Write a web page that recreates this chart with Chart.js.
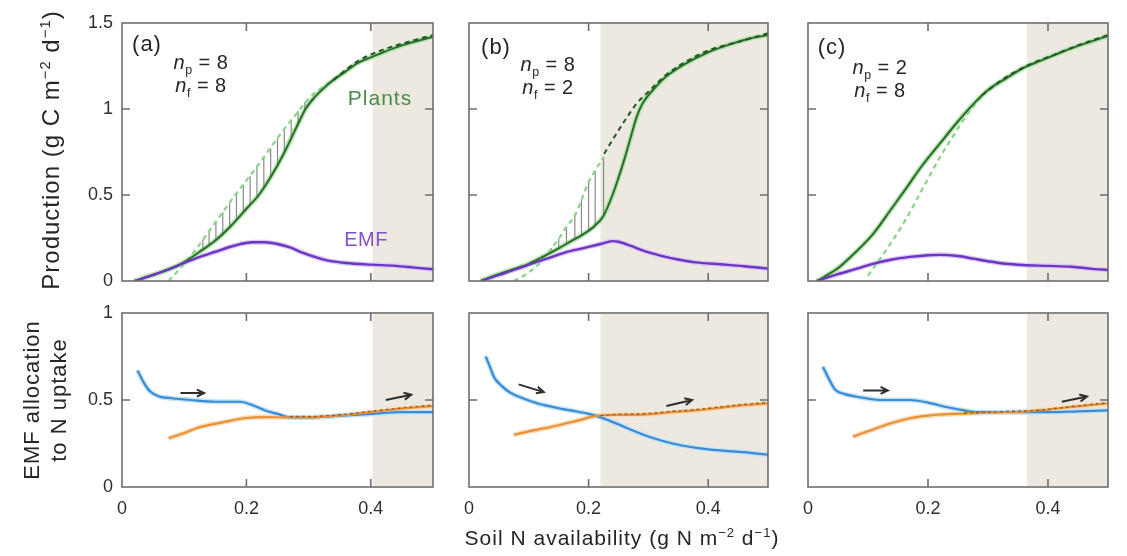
<!DOCTYPE html>
<html><head><meta charset="utf-8">
<script src="https://cdn.jsdelivr.net/npm/chart.js@4.4.1/dist/chart.umd.min.js"></script>
<style>
body{margin:0;background:#fff;width:1127px;height:556px;overflow:hidden;position:relative;font-family:'Liberation Sans',Arial,sans-serif;color:#262626}
canvas{position:absolute}
.t{position:absolute;transform:translate(-50%,-50%);white-space:nowrap;line-height:1}
.rot{transform:translate(-50%,-50%) rotate(-90deg)}
sub,sup{font-size:62%;line-height:0}
</style></head><body>
<script>
// ---------- data ----------
const X_TICKS = [0, 0.2, 0.4];
const Y_TICKS_TOP = [0, 0.5, 1, 1.5];
const Y_TICKS_BOTTOM = [0, 0.5, 1];
const panelLabels = ['(a)', '(b)', '(c)'];
const npValues = [8, 8, 2];
const nfValues = [8, 2, 8];
const shadeStart = [0.403, 0.22, 0.365];

// top row: plant production (solid), potential production (dashed), EMF production
const plantsA = [[0.02,0],[0.05,0.035],[0.08,0.075],[0.1,0.11],[0.125,0.17],[0.15,0.235],[0.175,0.32],[0.2,0.42],[0.22,0.5],[0.24,0.61],[0.26,0.74],[0.28,0.89],[0.295,1.0],[0.31,1.07],[0.33,1.14],[0.36,1.22],[0.38,1.27],[0.4,1.3],[0.42,1.33],[0.45,1.37],[0.5,1.42]];
const potLightA = [[0.075,0],[0.1,0.1],[0.12,0.19],[0.14,0.29],[0.16,0.39],[0.18,0.49],[0.2,0.585],[0.22,0.68],[0.24,0.78],[0.26,0.88],[0.28,0.97],[0.3,1.06],[0.32,1.12],[0.34,1.17]];
const potDarkA = [[0.34,1.17],[0.38,1.28],[0.42,1.345],[0.46,1.39],[0.5,1.43]];
const hatchA = [[0.13,0.18,0.24],[0.14,0.205,0.29],[0.151,0.24,0.345],[0.162,0.27,0.4],[0.173,0.31,0.45],[0.184,0.35,0.51],[0.195,0.4,0.56],[0.206,0.44,0.61],[0.217,0.49,0.67],[0.228,0.54,0.72],[0.239,0.6,0.77],[0.25,0.67,0.83],[0.261,0.745,0.88],[0.272,0.83,0.935],[0.283,0.91,0.99],[0.294,0.99,1.04]];
const emfA = [[0.02,0],[0.05,0.035],[0.08,0.075],[0.1,0.105],[0.125,0.14],[0.15,0.17],[0.18,0.205],[0.21,0.225],[0.23,0.225],[0.25,0.215],[0.27,0.195],[0.29,0.165],[0.31,0.14],[0.33,0.12],[0.36,0.105],[0.4,0.095],[0.44,0.088],[0.47,0.078],[0.5,0.068]];

const plantsB = [[0.02,0],[0.05,0.04],[0.08,0.075],[0.1,0.1],[0.12,0.135],[0.15,0.19],[0.17,0.23],[0.19,0.27],[0.21,0.32],[0.225,0.38],[0.24,0.5],[0.25,0.6],[0.26,0.71],[0.27,0.83],[0.28,0.95],[0.29,1.03],[0.31,1.12],[0.33,1.19],[0.36,1.26],[0.4,1.33],[0.44,1.38],[0.47,1.41],[0.5,1.43]];
const potLightB = [[0.075,0],[0.1,0.05],[0.12,0.11],[0.138,0.19],[0.15,0.245],[0.163,0.315],[0.177,0.38],[0.188,0.47],[0.2,0.575],[0.211,0.643],[0.225,0.72]];
const potDarkB = [[0.226,0.74],[0.24,0.82],[0.26,0.93],[0.28,1.03],[0.3,1.1],[0.33,1.2],[0.36,1.27],[0.4,1.34],[0.45,1.39],[0.5,1.44]];
const hatchB = [[0.127,0.14,0.15],[0.138,0.165,0.19],[0.15,0.19,0.245],[0.163,0.215,0.315],[0.177,0.245,0.38],[0.188,0.265,0.47],[0.2,0.295,0.575],[0.211,0.325,0.643],[0.225,0.38,0.72]];
const emfB = [[0.02,0],[0.05,0.035],[0.08,0.07],[0.1,0.095],[0.13,0.13],[0.16,0.165],[0.19,0.19],[0.22,0.215],[0.24,0.232],[0.25,0.228],[0.27,0.205],[0.29,0.178],[0.32,0.148],[0.35,0.125],[0.38,0.108],[0.42,0.097],[0.46,0.086],[0.5,0.072]];

const plantsC = [[0.015,0],[0.03,0.03],[0.053,0.083],[0.08,0.17],[0.109,0.276],[0.137,0.41],[0.165,0.546],[0.19,0.67],[0.22,0.8],[0.248,0.92],[0.276,1.03],[0.3,1.11],[0.331,1.18],[0.36,1.24],[0.387,1.28],[0.415,1.32],[0.442,1.357],[0.47,1.39],[0.5,1.425]];
const potLightC = [[0.1,0.03],[0.114,0.1],[0.14,0.23],[0.165,0.37],[0.19,0.53],[0.22,0.72],[0.245,0.86],[0.27,0.99],[0.29,1.07]];
const potDarkC = [[0.29,1.08],[0.33,1.185],[0.37,1.26],[0.41,1.315],[0.45,1.37],[0.5,1.43]];
const hatchC = [];
const emfC = [[0.015,0],[0.05,0.04],[0.08,0.07],[0.108,0.1],[0.14,0.125],[0.17,0.14],[0.2,0.15],[0.22,0.152],[0.25,0.145],[0.275,0.13],[0.3,0.115],[0.33,0.1],[0.358,0.093],[0.4,0.088],[0.44,0.083],[0.47,0.072],[0.5,0.064]];

// bottom row: EMF allocation to N uptake
const blueA = [[0.025,0.67],[0.035,0.6],[0.045,0.55],[0.06,0.52],[0.08,0.51],[0.11,0.5],[0.15,0.49],[0.19,0.49],[0.21,0.47],[0.23,0.44],[0.25,0.42],[0.27,0.4],[0.3,0.4],[0.35,0.41],[0.4,0.42],[0.45,0.43],[0.5,0.43]];
const orangeA = [[0.075,0.28],[0.1,0.31],[0.126,0.345],[0.16,0.37],[0.196,0.395],[0.23,0.402],[0.27,0.4],[0.3,0.4],[0.35,0.41],[0.4,0.43],[0.45,0.45],[0.5,0.465]];
const orangeDashA = [[0.27,0.405],[0.3,0.405],[0.35,0.415],[0.4,0.435],[0.45,0.455],[0.5,0.47]];
const blueB = [[0.028,0.75],[0.035,0.69],[0.042,0.63],[0.055,0.58],[0.07,0.54],[0.09,0.51],[0.115,0.48],[0.14,0.46],[0.17,0.44],[0.2,0.42],[0.22,0.4],[0.25,0.36],[0.27,0.33],[0.3,0.29],[0.34,0.25],[0.38,0.225],[0.42,0.21],[0.46,0.2],[0.5,0.185]];
const orangeB = [[0.075,0.3],[0.1,0.32],[0.137,0.345],[0.18,0.38],[0.215,0.41],[0.25,0.415],[0.28,0.415],[0.31,0.42],[0.34,0.43],[0.38,0.44],[0.42,0.455],[0.46,0.47],[0.5,0.48]];
const orangeDashB = [[0.22,0.41],[0.25,0.418],[0.28,0.42],[0.31,0.425],[0.34,0.435],[0.38,0.445],[0.42,0.46],[0.46,0.475],[0.5,0.485]];
const blueC = [[0.025,0.69],[0.035,0.62],[0.045,0.56],[0.06,0.535],[0.08,0.52],[0.12,0.5],[0.17,0.5],[0.2,0.485],[0.23,0.46],[0.26,0.44],[0.28,0.43],[0.32,0.43],[0.36,0.43],[0.4,0.43],[0.45,0.435],[0.5,0.44]];
const orangeC = [[0.075,0.29],[0.1,0.32],[0.137,0.365],[0.17,0.395],[0.2,0.41],[0.24,0.42],[0.28,0.425],[0.32,0.43],[0.36,0.433],[0.4,0.445],[0.44,0.46],[0.47,0.47],[0.5,0.48]];
const orangeDashC = [[0.26,0.425],[0.3,0.43],[0.34,0.435],[0.38,0.44],[0.42,0.455],[0.46,0.47],[0.5,0.485]];

const arrowsA = [[0.094,0.54,0.132,0.54],[0.424,0.5,0.465,0.53]];
const arrowsB = [[0.083,0.59,0.125,0.545],[0.33,0.465,0.373,0.5]];
const arrowsC = [[0.092,0.555,0.133,0.555],[0.423,0.49,0.465,0.52]];

// ---------- styling / layout ----------
const C = {
  shade:'#ede9e0', frame:'#6e6e6e', tick:'#2e2e2e',
  green:'#2b6a2b', greenHalo:'#b3e4ad', greenLight:'#86d486', greenDash:'#27552a',
  purple:'#6e35c2', purpleHalo:'#dacbf4',
  blue:'#3b8bd4', blueHalo:'#c4e3f7', orange:'#e8913a', orangeHalo:'#fbdcb6', orangeDash:'#9c5e25',
  hatch:'#8a8a8a'
};
const FONT = "'Liberation Sans', Arial, sans-serif";
const cols = [{l:122,r:433},{l:469,r:768},{l:808,r:1108}];
const rows = [{t:23,b:281},{t:313,b:487}];
const PADT = 12, PADR = 6;

const pts = a => a.map(p => ({x:p[0], y:p[1]}));
const hatchPts = h => { const o=[]; h.forEach(p=>{o.push({x:p[0],y:p[1]},{x:p[0],y:p[2]},{x:p[0],y:null});}); return o; };
function ln(data, color, width, order, dash, extra){
  return Object.assign({data:pts(data), borderColor:color, borderWidth:width, order, borderDash:dash||[],
    pointRadius:0, fill:false, tension:0.4, cubicInterpolationMode:'monotone', spanGaps:false}, extra||{});
}

const panelPlugin = {
  id:'panel',
  beforeDatasetsDraw(chart, args, o){
    const {ctx, chartArea:a, scales:{x}} = chart;
    const px = x.getPixelForValue(o.shadeFrom);
    ctx.save(); ctx.fillStyle = C.shade;
    ctx.fillRect(px, a.top, a.right - px, a.bottom - a.top);
    ctx.restore();
  },
  afterDatasetsDraw(chart, args, o){
    const {ctx, chartArea:a, scales:{x, y}} = chart;
    ctx.save();
    ctx.strokeStyle = C.frame; ctx.lineWidth = 1.6;
    ctx.strokeRect(a.left, a.top, a.right - a.left, a.bottom - a.top);
    const L = 8;
    ctx.beginPath();
    o.xTicks.forEach(v => { if (v <= x.min || v >= x.max) return; const p = x.getPixelForValue(v);
      ctx.moveTo(p, a.top); ctx.lineTo(p, a.top + L); ctx.moveTo(p, a.bottom); ctx.lineTo(p, a.bottom - L); });
    o.yTicks.forEach(v => { if (v <= y.min || v >= y.max) return; const p = y.getPixelForValue(v);
      ctx.moveTo(a.left, p); ctx.lineTo(a.left + L, p); ctx.moveTo(a.right, p); ctx.lineTo(a.right - L, p); });
    ctx.stroke();
    (o.arrows || []).forEach(ar => {
      const x0 = x.getPixelForValue(ar[0]), y0 = y.getPixelForValue(ar[1]);
      const x1 = x.getPixelForValue(ar[2]), y1 = y.getPixelForValue(ar[3]);
      const ang = Math.atan2(y1 - y0, x1 - x0), h = 8;
      ctx.strokeStyle = '#2e2e2e'; ctx.lineWidth = 2;
      ctx.beginPath(); ctx.moveTo(x0, y0); ctx.lineTo(x1, y1);
      ctx.moveTo(x1 - h*Math.cos(ang - 0.45), y1 - h*Math.sin(ang - 0.45)); ctx.lineTo(x1, y1);
      ctx.lineTo(x1 - h*Math.cos(ang + 0.45), y1 - h*Math.sin(ang + 0.45));
      ctx.stroke();
    });
    ctx.restore();
  }
};

function makePanel(ci, ri, datasets, arrows){
  const col = cols[ci], row = rows[ri];
  const padL = ci === 0 ? 60 : 14;
  const padB = ri === 0 ? 12 : 40;
  const w = (col.r - col.l) + padL + PADR, h = (row.b - row.t) + PADT + padB;
  const cv = document.createElement('canvas');
  cv.width = w; cv.height = h;
  cv.style.left = (col.l - padL) + 'px'; cv.style.top = (row.t - PADT) + 'px';
  cv.style.width = w + 'px'; cv.style.height = h + 'px';
  document.body.appendChild(cv);
  const yTicks = ri === 0 ? Y_TICKS_TOP : Y_TICKS_BOTTOM;
  new Chart(cv, {
    type:'line',
    data:{datasets},
    plugins:[panelPlugin],
    options:{
      responsive:false, animation:false, events:[],
      layout:{padding:{left:0, right:PADR, top:PADT, bottom:0}},
      plugins:{legend:{display:false}, tooltip:{enabled:false},
        panel:{shadeFrom:shadeStart[ci], xTicks:X_TICKS, yTicks, arrows}},
      scales:{
        x:{type:'linear', min:0, max:0.5, grid:{display:false, drawTicks:false}, border:{display:false},
          afterBuildTicks: ax => { ax.ticks = X_TICKS.map(v => ({value:v})); },
          ticks:{display: ri === 1, padding:11, color:C.tick, font:{family:FONT, size:18}, maxRotation:0,
            callback: v => v === 0 ? '0' : String(v)},
          afterFit: ax => { ax.height = padB; ax.paddingLeft = 0; ax.paddingRight = 0; }},
        y:{type:'linear', min:0, max:ri === 0 ? 1.5 : 1, grid:{display:false, drawTicks:false}, border:{display:false},
          afterBuildTicks: ax => { ax.ticks = yTicks.map(v => ({value:v})); },
          ticks:{display: ci === 0, padding:9, color:C.tick, font:{family:FONT, size:18},
            callback: v => String(v)},
          afterFit: ax => { ax.width = padL; ax.paddingTop = 0; ax.paddingBottom = 0; }}
      }
    }
  });
}

function topSets(plants, potLight, potDark, hatch, emf){
  return [
    Object.assign(ln([], C.hatch, 1.2, 7), {data:hatchPts(hatch), tension:0, cubicInterpolationMode:'default'}),
    ln(potLight, C.greenLight, 2.2, 6, [5,4]),
    ln(plants, C.greenHalo, 5, 9),
    ln(emf, C.purpleHalo, 5, 9),
    ln(plants, C.green, 2, 4),
    ln(emf, C.purple, 2.4, 3),
    ln(potDark, C.greenDash, 2, 2, [5,4])
  ];
}
function bottomSets(blue, orange, orangeDash){
  return [
    ln(blue, C.blueHalo, 5, 9),
    ln(orange, C.orangeHalo, 5, 9),
    ln(blue, C.blue, 2.2, 4),
    ln(orange, C.orange, 2.2, 3),
    ln(orangeDash, C.orangeDash, 1.4, 2, [3,3])
  ];
}

makePanel(0, 0, topSets(plantsA, potLightA, potDarkA, hatchA, emfA));
makePanel(1, 0, topSets(plantsB, potLightB, potDarkB, hatchB, emfB));
makePanel(2, 0, topSets(plantsC, potLightC, potDarkC, hatchC, emfC));
makePanel(0, 1, bottomSets(blueA, orangeA, orangeDashA), arrowsA);
makePanel(1, 1, bottomSets(blueB, orangeB, orangeDashB), arrowsB);
makePanel(2, 1, bottomSets(blueC, orangeC, orangeDashC), arrowsC);

// ---------- text ----------
function txt(html, x, y, size, extra){
  const d = document.createElement('div');
  d.className = 't' + (extra && extra.rot ? ' rot' : '');
  d.style.left = x + 'px'; d.style.top = y + 'px'; d.style.fontSize = size + 'px';
  if (extra && extra.color) d.style.color = extra.color;
  if (extra && extra.ls) d.style.letterSpacing = extra.ls + 'px';
  d.innerHTML = html; document.body.appendChild(d);
}
const labelPos = [{lx:147,ly:44,nx:201,ny:62},{lx:496,ly:47,nx:548,ny:64},{lx:832,ly:47,nx:880,ny:67}];
labelPos.forEach((p, i) => {
  txt(panelLabels[i], p.lx, p.ly, 22, {ls:1});
  txt('<i>n</i><sub>p</sub> = ' + npValues[i], p.nx, p.ny, 20, {ls:0.5});
  txt('<i>n</i><sub>f</sub> = ' + nfValues[i], p.nx, p.ny + 23, 20, {ls:0.5});
});
txt('Plants', 380, 97, 21, {color:'#4a8a4a', ls:1});
txt('EMF', 366, 239, 20, {color:'#8350c8', ls:0.5});
txt('Production (g C m<sup>−2</sup> d<sup>−1</sup>)', 51, 150, 24, {rot:true, ls:1});
txt('EMF allocation', 32, 400, 22, {rot:true, ls:1});
txt('to N uptake', 59, 400, 22, {rot:true, ls:1});
txt('Soil N availability (g N m<sup>−2</sup> d<sup>−1</sup>)', 622, 537, 21, {ls:1});
</script>
</body></html>
